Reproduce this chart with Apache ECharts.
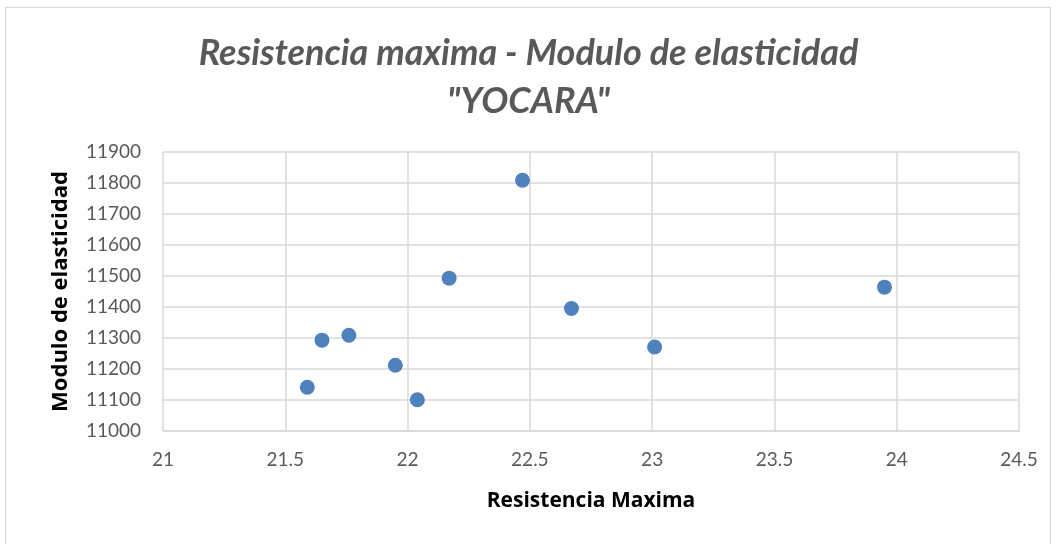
<!DOCTYPE html>
<html>
<head>
<meta charset="utf-8">
<script src="https://cdn.jsdelivr.net/npm/echarts@6/dist/echarts.min.js"></script>
<style>html,body{margin:0;padding:0;background:#fff}#c{width:1057px;height:544px}</style>
</head>
<body>
<div id="c"></div>
<script>
const resistencia = [21.59, 21.65, 21.76, 21.95, 22.04, 22.17, 22.47, 22.67, 23.01, 23.95];
const modulo = [11141, 11293, 11309, 11212, 11101, 11493, 11809, 11395, 11271, 11464];
const titleText = 'Resistencia maxima - Modulo de elasticidad\n"YOCARA"';
const xName = 'Resistencia Maxima';
const yName = 'Modulo de elasticidad';

const points = resistencia.map((x, i) => [x, modulo[i]]);
const chart = echarts.init(document.getElementById('c'), null, {renderer: 'canvas'});
chart.setOption({
  animation: false,
  backgroundColor: '#fff',
  graphic: [{type: 'rect', shape: {x: 5.5, y: 7.5, width: 1045, height: 545}, style: {fill: 'none', stroke: '#d9d9d9', lineWidth: 1}}],
  title: {
    text: titleText, left: 'center', top: 24,
    textStyle: {fontFamily: 'Lato', fontStyle: 'italic', fontWeight: 'bold', fontSize: 36, color: '#595959', lineHeight: 48}
  },
  grid: {left: 163, right: 38, top: 152, bottom: 113},
  xAxis: {
    type: 'value', min: 21, max: 24.5, interval: 0.5,
    name: xName, nameLocation: 'middle', nameGap: 60,
    nameTextStyle: {fontFamily: 'Open Sans', fontWeight: 'bold', fontSize: 21, color: '#000'},
    axisLine: {show: true, lineStyle: {color: '#d9d9d9', width: 1.5}},
    axisTick: {show: false},
    axisLabel: {fontFamily: 'Lato', fontSize: 19, color: '#595959', margin: 19},
    splitLine: {show: true, lineStyle: {color: '#d9d9d9', width: 1.5}}
  },
  yAxis: {
    type: 'value', min: 11000, max: 11900, interval: 100,
    name: yName, nameLocation: 'middle', nameGap: 91, nameRotate: 90,
    nameTextStyle: {fontFamily: 'Open Sans', fontWeight: 'bold', fontSize: 22, color: '#000'},
    axisLine: {show: false},
    axisTick: {show: false},
    axisLabel: {fontFamily: 'Lato', fontSize: 19, color: '#595959', margin: 22, formatter: v => String(v)},
    splitLine: {show: true, lineStyle: {color: '#d9d9d9', width: 1.5}}
  },
  series: [{
    type: 'scatter', data: points, symbol: 'circle', symbolSize: 15,
    itemStyle: {color: '#4f81bd', opacity: 1}
  }]
});
</script>
</body>
</html>
